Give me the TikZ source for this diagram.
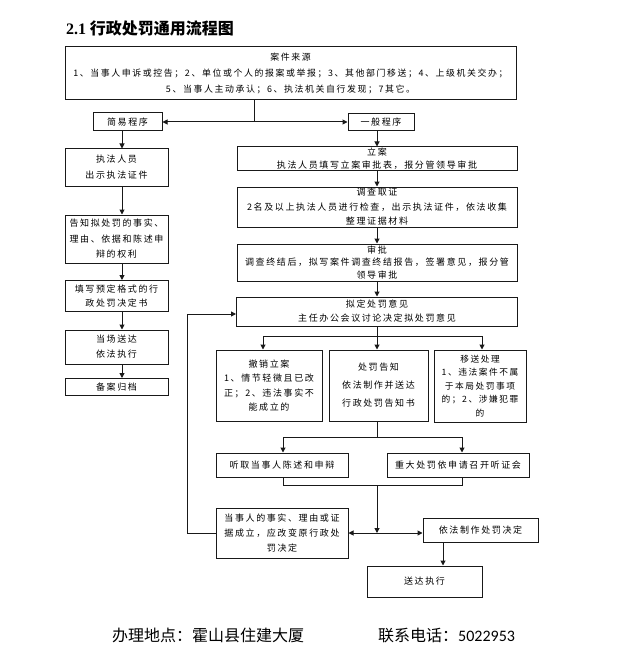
\documentclass[tikz,border=0pt]{standalone}
\usepackage{fontspec}
\setmainfont{Noto Sans CJK SC}
\newfontfamily\boxfont[LetterSpace=18]{Noto Sans CJK SC}
\newfontfamily\numfont{Carlito}
\newfontfamily\titlenum{Liberation Serif}
\usetikzlibrary{arrows.meta}
\begin{document}
\begin{tikzpicture}[x=1pt,y=-1pt,
  bx/.style={draw=black!90, line width=1pt, inner sep=0pt, align=center,
    font=\boxfont\fontsize{9}{13.5}\selectfont},
  arr/.style={-{Triangle[length=5pt,width=5pt]}, draw=black!90, line width=1pt},
  ln/.style={draw=black!90, line width=1pt}]
\useasboundingbox[fill=white] (0,0) rectangle (628,663);

% title
\node[anchor=west, inner sep=0pt, font=\fontsize{16}{16}\selectfont\bfseries] (title) at (66,28)
  {{\titlenum\bfseries 2.1} 行政处罚通用流程图};

% source box
\node[bx, minimum width=451pt, minimum height=53pt, font=\boxfont\fontsize{8.9}{16}\selectfont] (src) at (290.5,73.5)
  {案件来源\\1、当事人申诉或控告；2、单位或个人的报案或举报；3、其他部门移送；4、上级机关交办；\\5、当事人主动承认；6、执法机关自行发现；7其它。};

% left column
\node[bx, minimum width=69pt, minimum height=18pt] (jianyi) at (127.5,122) {简易程序};
\node[bx, minimum width=103pt, minimum height=37pt, font=\boxfont\fontsize{9}{16}\selectfont] (zhifa) at (116.5,167.5) {执法人员\\出示执法证件};
\node[bx, minimum width=103pt, minimum height=48pt, font=\boxfont\fontsize{9}{15.5}\selectfont] (gaozhi) at (116.5,239) {告知拟处罚的事实、\\理由、依据和陈述申\\辩的权利};
\node[bx, minimum width=103pt, minimum height=31pt, font=\boxfont\fontsize{9}{14}\selectfont] (tianxie) at (116.5,296) {填写预定格式的行\\政处罚决定书};
\node[bx, minimum width=103pt, minimum height=34pt, font=\boxfont\fontsize{9}{15}\selectfont] (dangchang) at (116.5,347) {当场送达\\依法执行};
\node[bx, minimum width=103pt, minimum height=17pt] (beian) at (116.5,387) {备案归档};

% right column
\node[bx, minimum width=66pt, minimum height=17pt] (yiban) at (381,122) {一般程序};
\node[bx, minimum width=280pt, minimum height=24pt, font=\boxfont\fontsize{9}{13}\selectfont] (lian) at (377,159) {立案\\执法人员填写立案审批表，报分管领导审批};
\node[bx, minimum width=280pt, minimum height=40pt, font=\boxfont\fontsize{9}{14.5}\selectfont] (diaocha) at (377,207) {调查取证\\2名及以上执法人员进行检查，出示执法证件，依法收集\\整理证据材料};
\node[bx, minimum width=280pt, minimum height=37pt, font=\boxfont\fontsize{9}{12.5}\selectfont] (shenpi) at (377,262.5) {审批\\调查终结后，拟写案件调查终结报告，签署意见，报分管\\领导审批};
\node[bx, minimum width=281pt, minimum height=29pt, font=\boxfont\fontsize{9}{14}\selectfont] (niding) at (377,311.5) {拟定处罚意见\\主任办公会议讨论决定拟处罚意见};

\node[bx, minimum width=106pt, minimum height=71pt, font=\boxfont\fontsize{9}{14.5}\selectfont] (chexiao) at (269,385.5) {撤销立案\\1、情节轻微且已改\\正；2、违法事实不\\能成立的};
\node[bx, minimum width=99pt, minimum height=71pt, font=\boxfont\fontsize{9}{18}\selectfont] (gaozhi2) at (378.5,385.5) {处罚告知\\依法制作并送达\\行政处罚告知书};
\node[bx, minimum width=92pt, minimum height=72pt, font=\boxfont\fontsize{8.7}{13.5}\selectfont] (yisong) at (480,386) {移送处理\\1、违法案件不属\\于本局处罚事项\\的；2、涉嫌犯罪\\的};

\node[bx, minimum width=132pt, minimum height=24pt] (tingqu) at (282,465) {听取当事人陈述和申辩};
\node[bx, minimum width=142pt, minimum height=24pt] (zhongda) at (458,465) {重大处罚依申请召开听证会};

\node[bx, minimum width=132pt, minimum height=50pt, font=\boxfont\fontsize{9}{15}\selectfont] (dangshiren) at (282,533) {当事人的事实、理由或证\\据成立，应改变原行政处\\罚决定};
\node[bx, minimum width=115pt, minimum height=24pt] (yifa) at (480.5,530) {依法制作处罚决定};
\node[bx, minimum width=115pt, minimum height=31pt] (songda) at (424.5,581.5) {送达执行};

% footer
\node[anchor=west, inner sep=0pt, font=\fontsize{16}{16}\selectfont] (addr) at (112,635) {办理地点：霍山县住建大厦};
\node[anchor=west, inner sep=0pt, font=\fontsize{16}{16}\selectfont] (tel) at (378,635) {联系电话：{\numfont 5022953}};

% connectors: top split
\coordinate (split) at (254,122);
\draw[ln] (src.south -| split) -- (split);
\draw[arr] (split) -- (jianyi.east);
\draw[arr] (split) -- (yiban.west);

% left column arrows
\coordinate (colL) at (122,0);
\draw[arr] (jianyi.south -| colL) -- (zhifa.north -| colL);
\draw[arr] (zhifa.south -| colL) -- (gaozhi.north -| colL);
\draw[arr] (gaozhi.south -| colL) -- (tianxie.north -| colL);
\draw[arr] (tianxie.south -| colL) -- (dangchang.north -| colL);
\draw[arr] (dangchang.south -| colL) -- (beian.north -| colL);

% right column arrows
\draw[arr] (yiban.south -| lian.north) -- (lian.north);
\draw[arr] (lian.south) -- (diaocha.north);
\draw[arr] (diaocha.south) -- (shenpi.north);
\draw[arr] (shenpi.south) -- (niding.north);

% branch to three
\coordinate (br) at (377,336);
\coordinate (bL) at (263,336);
\coordinate (bR) at (482,336);
\draw[ln] (niding.south) -- (br);
\draw[ln] (bL) -- (bR);
\draw[arr] (bL) -- (bL |- chexiao.north);
\draw[arr] (br) -- (br |- gaozhi2.north);
\draw[arr] (bR) -- (bR |- yisong.north);

% from 处罚告知 to hearing boxes
\coordinate (b2) at (377,437);
\coordinate (c2L) at (283,437);
\coordinate (c2R) at (462,437);
\draw[ln] (b2 |- gaozhi2.south) -- (b2);
\draw[ln] (c2L) -- (c2R);
\draw[arr] (c2L) -- (c2L |- tingqu.north);
\draw[arr] (c2R) -- (c2R |- zhongda.north);

% merge
\coordinate (m1) at (283,485);
\coordinate (m2) at (462,485);
\coordinate (J) at (377,533);
\draw[ln] (tingqu.south -| m1) -- (m1) -- (m2) -- (zhongda.south -| m2);
\draw[arr] (m1 -| J) -- (J);
\draw[arr] (J) -- (dangshiren.east);
\draw[arr] (J) -- (J -| yifa.west);

% to 送达执行
\coordinate (s) at (443,0);
\draw[arr] (yifa.south -| s) -- (songda.north -| s);

% feedback loop
\coordinate (fb) at (187,314);
\draw[arr] (dangshiren.west) -| (fb) -- (fb -| niding.west);
\end{tikzpicture}
\end{document}
